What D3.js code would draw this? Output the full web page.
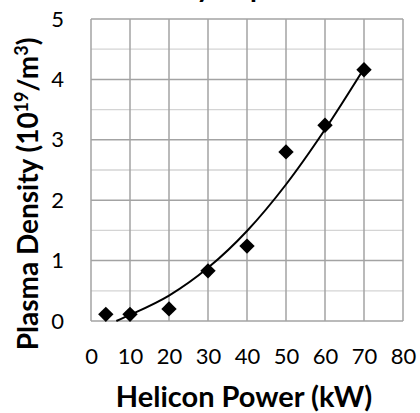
<!DOCTYPE html>
<html>
<head>
<meta charset="utf-8">
<script src="https://cdn.jsdelivr.net/npm/d3@7"></script>
<style>
  body { margin: 0; background: #fff; }
  svg { display: block; font-family: Lato, "Open Sans", sans-serif; }
</style>
</head>
<body>
<div id="chart"></div>
<script>
// Measured data points (kW, 10^19 /m^3)
const power = [3.8, 10, 20, 30, 40, 50, 60, 70];
const density = [0.11, 0.11, 0.2, 0.83, 1.24, 2.8, 3.24, 4.16];

// Trendline
const trendPower = [6.5, 10, 20, 30, 40, 50, 60, 70];
const trendDensity = [0, 0.1, 0.42, 0.88, 1.49, 2.26, 3.17, 4.18];

const xTicks = [0, 10, 20, 30, 40, 50, 60, 70, 80];
const yTicks = [0, 1, 2, 3, 4, 5];
const yMinor = [0.5, 1.5, 2.5, 3.5, 4.5];

const W = 420, H = 413;
const margin = { left: 91, right: 17, top: 19, bottom: 92 };
const width = W - margin.left - margin.right;
const height = H - margin.top - margin.bottom;

const svg = d3.select("#chart").append("svg")
  .attr("width", W).attr("height", H);

// Title, cut off above the frame like in the original
svg.append("text")
  .attr("x", 222).attr("y", -3)
  .attr("text-anchor", "middle")
  .attr("font-weight", "bold")
  .attr("font-size", 28)
  .text("Density vs power");

const g = svg.append("g")
  .attr("transform", `translate(${margin.left},${margin.top})`);

const xScale = d3.scaleLinear().domain([0, 80]).range([0, width]);
const yScale = d3.scaleLinear().domain([0, 5]).range([height, 0]);

// Minor horizontal gridlines
g.selectAll(".minor").data(yMinor).enter().append("line")
  .attr("class", "minor")
  .attr("x1", 0).attr("x2", width)
  .attr("y1", (d) => yScale(d)).attr("y2", (d) => yScale(d))
  .attr("stroke", "#d4d4d4").attr("stroke-width", 1.3);

// Major horizontal gridlines
g.selectAll(".hmajor").data(yTicks).enter().append("line")
  .attr("class", "hmajor")
  .attr("x1", 0).attr("x2", width)
  .attr("y1", (d) => yScale(d)).attr("y2", (d) => yScale(d))
  .attr("stroke", "#a3a3a3").attr("stroke-width", 1.5);

// Vertical gridlines
g.selectAll(".vmajor").data(xTicks).enter().append("line")
  .attr("class", "vmajor")
  .attr("y1", 0).attr("y2", height)
  .attr("x1", (d) => xScale(d)).attr("x2", (d) => xScale(d))
  .attr("stroke", "#a3a3a3").attr("stroke-width", 1.5);

// Axes (labels only)
const xAxis = g.append("g")
  .attr("transform", `translate(0,${height})`)
  .call(d3.axisBottom(xScale).tickValues(xTicks).tickFormat(d3.format("d"))
    .tickSize(0).tickPadding(27));
const yAxis = g.append("g")
  .call(d3.axisLeft(yScale).tickValues(yTicks).tickFormat(d3.format("d"))
    .tickSize(0).tickPadding(27));
[xAxis, yAxis].forEach((a) => {
  a.select(".domain").remove();
  a.selectAll("text")
    .attr("font-family", "Lato, sans-serif")
    .attr("font-size", 22)
    .attr("fill", "#000");
});

// Trendline
const line = d3.line()
  .x((d, i) => xScale(trendPower[i]))
  .y((d) => yScale(d))
  .curve(d3.curveMonotoneX);
g.append("path")
  .datum(trendDensity)
  .attr("d", line)
  .attr("fill", "none")
  .attr("stroke", "#000")
  .attr("stroke-width", 2);

// Diamond markers
const diamond = d3.symbol().type(d3.symbolSquare).size(118);
g.selectAll(".pt").data(density).enter().append("path")
  .attr("class", "pt")
  .attr("d", diamond)
  .attr("transform", (d, i) => `translate(${xScale(power[i])},${yScale(d)}) rotate(45)`)
  .attr("fill", "#000");

// Axis titles
svg.append("text")
  .attr("x", margin.left + width / 2 - 3)
  .attr("y", 407)
  .attr("text-anchor", "middle")
  .attr("font-weight", "bold")
  .attr("font-size", 29)
  .text("Helicon Power (kW)");

const yl = svg.append("text")
  .attr("transform", "translate(38,194) rotate(-90)")
  .attr("text-anchor", "middle")
  .attr("font-weight", "bold")
  .attr("font-size", 28);
yl.append("tspan").text("Plasma Density (10");
yl.append("tspan").attr("font-size", 18).attr("dy", -10).text("19");
yl.append("tspan").attr("dy", 10).text("/m");
yl.append("tspan").attr("font-size", 18).attr("dy", -10).text("3");
yl.append("tspan").attr("dy", 10).text(")");
</script>
</body>
</html>
